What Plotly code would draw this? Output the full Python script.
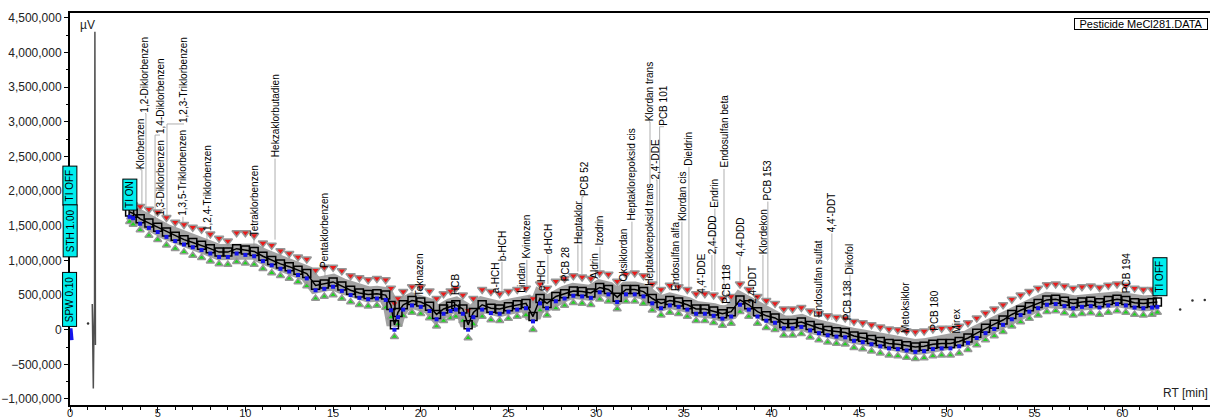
import plotly.graph_objects as go

M = 1_000_000

# ---------------- data (signal values in millions of µV) ----------------
rt = [3.4, 3.6, 4.0, 4.5, 5.0, 5.5, 6.0, 6.5, 7.0, 7.5, 8.0, 8.5, 9.0, 9.5, 10.0, 10.5,
      11.0, 11.5, 12.0, 12.5, 13.0, 13.5, 14.0, 14.5, 15.0, 15.5, 16.0, 16.5, 17.0, 17.5,
      18.0, 18.3, 18.5, 18.7, 19.0, 19.5, 20.0, 20.5, 20.9, 21.3, 21.7, 22.0, 22.4, 22.7,
      23.0, 23.5, 24.0, 24.5, 25.0, 25.5, 26.0, 26.4, 26.8, 27.2, 27.7, 28.2, 28.7, 29.2,
      29.7, 30.2, 30.7, 31.2, 31.7, 32.2, 32.7, 33.2, 33.7, 34.2, 34.7, 35.2, 35.7, 36.2,
      36.7, 37.2, 37.7, 38.2, 38.7, 39.2, 39.7, 40.2, 40.7, 41.2, 41.7, 42.2, 42.7, 43.2,
      43.7, 44.2, 44.7, 45.2, 45.7, 46.2, 46.7, 47.2, 47.7, 48.2, 48.7, 49.2, 49.7, 50.2,
      50.7, 51.2, 51.7, 52.2, 52.7, 53.2, 53.7, 54.2, 54.7, 55.2, 55.7, 56.2, 56.7, 57.2,
      57.7, 58.2, 58.7, 59.2, 59.7, 60.2, 60.7, 61.2, 61.7, 62.0]

signal = [1.70, 1.68, 1.60, 1.54, 1.48, 1.41, 1.35, 1.30, 1.26, 1.22, 1.17, 1.12, 1.12, 1.17, 1.15, 1.13,
          1.06, 1.00, 0.95, 0.91, 0.86, 0.81, 0.64, 0.66, 0.69, 0.63, 0.57, 0.53, 0.51, 0.52,
          0.50, 0.35, 0.07, 0.25, 0.36, 0.42, 0.40, 0.34, 0.22, 0.30, 0.34, 0.36, 0.30, 0.07,
          0.25, 0.36, 0.31, 0.30, 0.33, 0.36, 0.38, 0.19, 0.45, 0.38, 0.48, 0.52, 0.56, 0.55,
          0.53, 0.61, 0.58, 0.47, 0.58, 0.58, 0.55, 0.45, 0.38, 0.42, 0.40, 0.36, 0.30, 0.30,
          0.27, 0.23, 0.26, 0.43, 0.36, 0.26, 0.20, 0.17, 0.09, 0.09, 0.11, 0.06, 0.02, -0.01,
          -0.03, -0.04, -0.09, -0.11, -0.14, -0.17, -0.20, -0.21, -0.23, -0.25, -0.24, -0.21, -0.20, -0.20,
          -0.17, -0.12, -0.05, 0.02, 0.08, 0.14, 0.22, 0.28, 0.33, 0.38, 0.43, 0.44, 0.41, 0.38,
          0.40, 0.41, 0.39, 0.42, 0.44, 0.42, 0.39, 0.38, 0.39, 0.40]

peak_apex = [1.82, 1.80, 1.78, 1.74, 1.70, 1.62, 1.55, 1.52, 1.48, 1.45, 1.38, 1.32, 1.28, 1.40, 1.40, 1.36,
             1.25, 1.22, 1.14, 1.10, 1.05, 1.02, 0.86, 0.90, 0.90, 0.85, 0.78, 0.75, 0.72, 0.74,
             0.72, 0.60, 0.38, 0.45, 0.55, 0.62, 0.62, 0.56, 0.45, 0.52, 0.56, 0.60, 0.50, 0.28,
             0.45, 0.58, 0.55, 0.52, 0.55, 0.58, 0.60, 0.45, 0.66, 0.60, 0.70, 0.74, 0.78, 0.76,
             0.74, 0.82, 0.80, 0.70, 0.80, 0.82, 0.78, 0.66, 0.58, 0.64, 0.62, 0.58, 0.52, 0.52,
             0.50, 0.45, 0.48, 0.66, 0.58, 0.48, 0.42, 0.38, 0.30, 0.30, 0.32, 0.27, 0.24, 0.20,
             0.18, 0.17, 0.12, 0.10, 0.07, 0.04, 0.01, 0.00, -0.02, -0.03, -0.02, 0.01, 0.02, 0.02,
             0.05, 0.10, 0.17, 0.24, 0.30, 0.36, 0.44, 0.50, 0.55, 0.60, 0.65, 0.66, 0.63, 0.60,
             0.62, 0.63, 0.61, 0.64, 0.66, 0.64, 0.60, 0.58, 0.58, 0.55]

peak_start = [1.56, 1.52, 1.44, 1.36, 1.30, 1.22, 1.17, 1.12, 1.07, 1.04, 0.99, 0.95, 0.94, 0.98, 0.96, 0.94,
              0.88, 0.82, 0.78, 0.74, 0.69, 0.63, 0.45, 0.48, 0.50, 0.45, 0.40, 0.36, 0.34, 0.35,
              0.32, 0.18, -0.10, 0.08, 0.20, 0.25, 0.23, 0.17, 0.05, 0.13, 0.17, 0.19, 0.13, -0.12,
              0.08, 0.19, 0.14, 0.13, 0.16, 0.19, 0.21, 0.00, 0.28, 0.21, 0.31, 0.35, 0.39, 0.38,
              0.36, 0.44, 0.41, 0.30, 0.41, 0.41, 0.38, 0.28, 0.21, 0.25, 0.23, 0.19, 0.13, 0.13,
              0.10, 0.06, 0.09, 0.26, 0.19, 0.09, 0.03, 0.00, -0.08, -0.08, -0.06, -0.11, -0.15, -0.18,
              -0.20, -0.21, -0.26, -0.28, -0.31, -0.34, -0.37, -0.38, -0.40, -0.42, -0.41, -0.38, -0.37, -0.37,
              -0.34, -0.29, -0.22, -0.15, -0.09, -0.03, 0.05, 0.11, 0.16, 0.21, 0.26, 0.27, 0.24, 0.21,
              0.23, 0.24, 0.22, 0.25, 0.27, 0.25, 0.22, 0.21, 0.22, 0.25]

solvent_rt = [1.27, 1.28, 1.29, 1.31, 1.33, 1.36, 1.40, 1.42, 1.425, 1.43, 1.435, 1.44, 1.445, 1.45]
solvent_signal = [0.37, 0.05, -0.03, -0.40, -0.85, -0.10, 0.40, 4.30, 3.60, 3.75, 3.55, 4.10, 1.00, -0.22]

start_rt = [0.03, 0.06, 0.09]
start_signal = [0.02, -0.12, -0.15]

stray_rt = [1.03, 63.3, 64.0, 64.7]
stray_signal = [0.09, 0.29, 0.42, 0.43]

# compound labels: name, label rt, label bottom (M µV), leader peak rt, leader end (M µV)
compounds = ["Klorbenzen", "1,2-Diklorbenzen", "1,4-Diklorbenzen", "1,3-Diklorbenzen",
             "1,2,3-Triklorbenzen", "1,3,5-Triklorbenzen", "1,2,4-Triklorbenzen", "Tetraklorbenzen",
             "Hekzaklorbutadien", "Pentaklorbenzen", "Teknazen", "HCB", "a-HCH", "b-HCH", "Lindan",
             "Kvintozen", "e-HCH", "d-HCH", "PCB 28", "Heptaklor", "PCB 52", "Aldrin", "Izodrin",
             "Oksiklordan", "Heptaklorepoksid cis", "Heptaklorepoksid trans", "2,4'-DDE",
             "Klordan trans", "PCB 101", "Endosulfan alfa", "Klordan cis", "Dieldrin", "4,4'-DDE",
             "2,4-DDD", "Endrin", "PCB 118", "Endosulfan beta", "4,4-DDD", "2,4-DDT", "Klordekon",
             "PCB 153", "Endosulfan sulfat", "4,4'-DDT", "PCB 138", "Dikofol", "Metoksiklor",
             "PCB 180", "Mirex", "PCB 194"]
label_rt = [3.99, 4.28, 5.13, 5.19, 6.50, 6.44, 7.81, 10.49, 11.69, 14.54, 19.90, 22.01, 24.23,
            24.63, 25.77, 26.05, 26.85, 27.25, 28.22, 28.96, 29.30, 29.93, 30.22, 31.53, 32.04,
            33.07, 33.41, 33.01, 33.87, 34.49, 34.89, 35.29, 36.03, 36.60, 36.77, 37.46, 37.29,
            38.20, 38.94, 39.51, 39.79, 42.65, 43.44, 44.30, 44.47, 47.61, 49.32, 50.57, 60.26]
label_bottom = [2.31, 3.12, 2.81, 1.63, 2.97, 1.63, 1.41, 1.34, 2.47, 0.87, 0.46, 0.48, 0.52,
                0.98, 0.52, 1.01, 0.55, 1.08, 0.69, 1.23, 1.92, 0.72, 1.20, 0.69, 1.56,
                0.62, 2.16, 3.00, 2.93, 0.55, 1.56, 2.35, 0.51, 1.08, 1.75, 0.36, 2.32,
                1.05, 0.36, 1.08, 1.85, 0.16, 1.39, 0.12, 0.79, -0.07, -0.03, -0.07, 0.51]
leader_rt = [4.10, 4.33, 4.85, None, 5.53, 6.44, 7.81, 10.49, 11.69, 14.54, None, None, None,
             24.63, None, 26.05, None, 27.25, None, 28.96, 29.19, None, 30.22, None, 32.04,
             None, 33.47, 33.07, 33.62, None, 34.89, 35.29, None, 36.60, 36.77, None, 37.29,
             38.20, None, 39.51, 39.79, None, 43.44, None, 44.47, None, None, None, None]
leader_end = [1.75, 1.77, 1.60, None, 1.63, 1.49, 1.27, 1.20, 1.30, 0.76, None, None, None,
              0.55, None, 0.58, None, 0.66, None, 0.84, 0.80, None, 0.78, None, 0.80,
              None, 0.64, 2.06, 0.62, None, 0.66, 0.60, None, 0.56, 0.56, None, 0.50,
              0.64, None, 0.42, 0.36, None, 0.14, None, 0.06, None, None, None, None]

# instrument events (cyan boxes)
event_text = ["TI OFF", "STH 1.00", "SPW 0.10", "TI ON", "TI OFF"]
event_rt = [0.0, 0.0, 0.0, 3.42, 62.14]
event_mid = [2.08, 1.42, 0.43, 1.95, 0.77]
event_len = [38, 51, 53, 30, 37]

# ---------------- figure ----------------
def mu(vals):
    return [v * M for v in vals]

fig = go.Figure()

# grey band behind the trace
fig.add_trace(go.Scatter(x=rt, y=mu(signal), mode="lines",
                         line=dict(color="rgba(140,140,140,0.8)", width=16),
                         hoverinfo="skip"))
# blue baseline marks (drawn on a slightly offset overlay axis)
fig.add_trace(go.Scatter(x=rt, y=mu(signal), mode="markers", yaxis="y2",
                         marker=dict(symbol="square", size=4, color="rgb(20,20,235)")))
fig.add_trace(go.Scatter(x=start_rt, y=mu(start_signal), mode="lines",
                         line=dict(color="rgb(20,20,235)", width=4)))
# peak start/end markers (green) and apex markers (red)
fig.add_trace(go.Scatter(x=rt, y=mu(peak_start), mode="markers",
                         marker=dict(symbol="triangle-up", size=7, color="rgb(30,215,30)",
                                     line=dict(color="rgb(150,150,150)", width=1.5))))
fig.add_trace(go.Scatter(x=rt, y=mu(peak_apex), mode="markers",
                         marker=dict(symbol="triangle-down", size=8, color="rgb(235,25,25)",
                                     line=dict(color="rgb(150,150,150)", width=1.5))))
# main chromatogram trace
fig.add_trace(go.Scatter(x=rt, y=mu(signal), mode="lines+markers",
                         line=dict(color="black", width=1.5),
                         marker=dict(symbol="square-open", size=8, color="black",
                                     line=dict(color="black", width=1.5))))
# solvent peak
fig.add_trace(go.Scatter(x=solvent_rt, y=mu(solvent_signal), mode="lines",
                         line=dict(color="rgb(80,80,80)", width=1.5)))
fig.add_trace(go.Scatter(x=stray_rt, y=mu(stray_signal), mode="markers",
                         marker=dict(size=2.5, color="rgb(50,50,50)")))

shapes = []
annotations = []
for name, lx, lb, px, pe in zip(compounds, label_rt, label_bottom, leader_rt, leader_end):
    annotations.append(dict(x=lx, y=lb * M, xref="x", yref="y", text=name, showarrow=False,
                            textangle=-90, xanchor="center", yanchor="bottom",
                            font=dict(size=10, color="black"), borderpad=0))
    if px is not None:
        shapes.append(dict(type="path", xref="x", yref="y", layer="below",
                           path=f"M {lx},{lb * M} L {px},{lb * M} L {px},{pe * M}",
                           line=dict(color="rgb(175,175,175)", width=1)))

for txt, ex, ey, ln in zip(event_text, event_rt, event_mid, event_len):
    annotations.append(dict(x=ex, y=ey * M, xref="x", yref="y", text=txt, showarrow=False,
                            textangle=-90, xanchor="center", yanchor="middle",
                            width=ln, height=13, borderpad=0,
                            bgcolor="rgb(0,238,238)", bordercolor="black", borderwidth=1,
                            font=dict(size=10, color="black")))

annotations.append(dict(x=0.998, y=0.972, xref="paper", yref="paper",
                        text="Pesticide MeCl281.DATA", showarrow=False,
                        xanchor="right", yanchor="middle", width=132, height=10, borderpad=0,
                        bordercolor="black", borderwidth=1, font=dict(size=11, color="black")))
annotations.append(dict(x=0.007, y=0.969, xref="paper", yref="paper", text="µV",
                        showarrow=False, xanchor="left", yanchor="middle",
                        font=dict(size=12, color="#222")))
annotations.append(dict(x=1.0, y=0.031, xref="paper", yref="paper", text="RT [min]",
                        showarrow=False, xanchor="right", yanchor="middle",
                        font=dict(size=12, color="#222")))

y_lo, y_hi = -1.087 * M, 4.572 * M
fig.update_layout(
    width=1210, height=420,
    margin=dict(l=70, r=0, t=13, b=15, autoexpand=False),
    plot_bgcolor="white", paper_bgcolor="white",
    showlegend=False,
    font=dict(family="Liberation Sans, Arial, sans-serif", size=12, color="#222"),
    xaxis=dict(range=[0, 65], tickmode="linear", tick0=0, dtick=5, automargin=False,
               ticks="outside", ticklen=5, tickwidth=1, tickcolor="black",
               ticklabelstandoff=-8, tickfont=dict(size=11),
               showline=True, linecolor="black", linewidth=2, mirror=True,
               showgrid=False, zeroline=False,
               minor=dict(dtick=1, ticks="outside", ticklen=3, tickcolor="black")),
    yaxis=dict(range=[y_lo, y_hi], tickmode="linear", tick0=0, dtick=500000, automargin=False,
               tickformat=",d", ticks="outside", ticklen=4, tickwidth=1, tickcolor="black",
               showline=True, linecolor="black", linewidth=2,
               showgrid=False, zeroline=False,
               minor=dict(dtick=250000, ticks="outside", ticklen=2, tickcolor="black")),
    yaxis2=dict(range=[y_lo + 0.07 * M, y_hi + 0.07 * M], overlaying="y", visible=False),
    shapes=shapes,
    annotations=annotations,
)

fig.write_html("out.html", config={"displayModeBar": False},
               post_script="document.body.style.margin='0';document.body.style.overflow='hidden';")
